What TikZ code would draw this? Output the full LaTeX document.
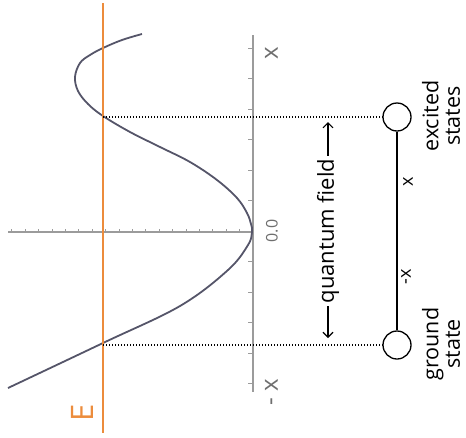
\documentclass[tikz,border=0pt]{standalone}
\usepackage{fontspec}
\setmainfont{Open Sans}
\usetikzlibrary{arrows.meta}
\definecolor{eorange}{RGB}{236,140,60}
\definecolor{curvec}{RGB}{85,85,105}
\definecolor{axisc}{RGB}{155,155,155}
\definecolor{labc}{RGB}{110,110,110}
\begin{document}
\begin{tikzpicture}[x=1pt,y=-1pt,
  axisline/.style={axisc,line width=1.4pt},
  tickline/.style={axisc,line width=1pt},
  levelline/.style={black,line width=1.3pt,dash pattern=on 1.3pt off 1.7pt},
  statecircle/.style={circle,draw=black,line width=1.3pt,fill=white,minimum size=28pt,inner sep=0pt},
  rtext/.style={rotate=90,font=\fontsize{21.5}{21.5}\selectfont,align=center,inner sep=0pt},
  axlabel/.style={rotate=90,text=labc,inner sep=0pt},
  smalllab/.style={rotate=90,inner sep=0pt,font=\fontsize{18}{18}\selectfont},
  qarrow/.style={-{Straight Barb[length=5pt,width=10pt]},line width=1.1pt,shorten <=3pt},
]
\useasboundingbox (0,0) rectangle (466,437);
% axes
\coordinate (vtop) at (253,35);
\coordinate (vbot) at (253,392);
\coordinate (hleft) at (8,232);
\coordinate (horig) at (253,232);
\draw[axisline] (vtop) -- (vbot);
\draw[axisline] (hleft) -- (horig);
\foreach \k in {-5,...,-1,1,2,...,6} \draw[tickline] (253,231-30.5*\k) -- ++(-5,0);
\foreach \k in {1,...,18} \draw[tickline] (253-13.4*\k,232) -- ++(0,-3.5);
% axis labels
\node[axlabel,font=\fontsize{24}{24}\selectfont] (xtop) at (271.5,53.5) {x};
\node[axlabel,font=\fontsize{16}{16}\selectfont] (xzero) at (272,231) {0.0};
\node[axlabel,font=\fontsize{24}{24}\selectfont] (xbot) at (271.5,392) {- x};
% potential curve
\draw[curvec,line width=1.8pt] plot[smooth,tension=0.6] coordinates {
  (8,388) (103,343) (180,306) (228,270) (248,245)
  (252,232) (251,224) (247,213) (237,198) (217,180) (190,162) (160,147) (130,132)
  (103,116) (88,104) (78,91) (75,77) (80,63) (90,55) (103,48) (122,40) (142,34)};
% energy line
\coordinate (etop) at (103,3);
\coordinate (ebot) at (103,433);
\draw[eorange,line width=1.8pt] (etop) -- (ebot);
\node[rotate=90,text=eorange,inner sep=0pt,font=\fontsize{31}{31}\selectfont] (elab) at (82.5,413) {E};
% states
\node[statecircle] (exc) at (397,117) {};
\node[statecircle] (gnd) at (397,345) {};
\draw[black,line width=1.3pt] (exc) -- (gnd);
\coordinate (lvlA) at (103,117);
\coordinate (lvlB) at (103,345);
\draw[levelline] (lvlA) -- (exc);
\draw[levelline] (lvlB) -- (gnd);
\node[smalllab] (lx) at (408,182) {x};
\node[smalllab] (lmx) at (406,277) {-x};
\node[rtext] (exctxt) at (441,116) {excited\\states};
\node[rtext] (gndtxt) at (441,344) {ground\\state};
% quantum field
\node[rtext,font=\fontsize{22}{22}\selectfont] (qf) at (328,231) {quantum field};
\coordinate (qfup) at (328,122);
\coordinate (qfdn) at (328,338);
\draw[qarrow] (qf.east) -- (qfup);
\draw[qarrow] (qf.west) -- (qfdn);
\end{tikzpicture}
\end{document}
